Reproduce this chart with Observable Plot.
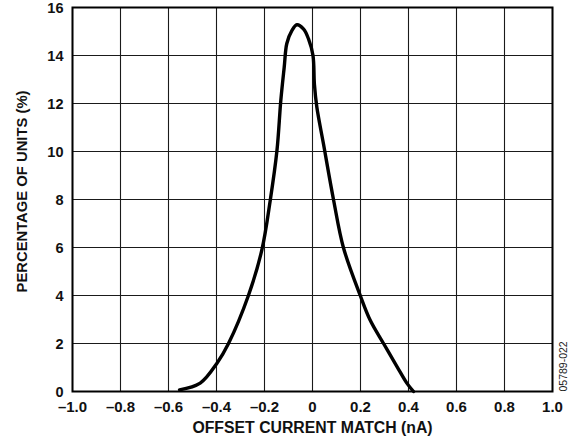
<!DOCTYPE html>
<html>
<head>
<meta charset="utf-8">
<script src="https://cdn.jsdelivr.net/npm/d3@7"></script>
<script src="https://cdn.jsdelivr.net/npm/@observablehq/plot@0.6"></script>
<style>
html, body { margin: 0; padding: 0; background: #fff; }
svg { font-family: "Liberation Sans", Arial, sans-serif; }
</style>
</head>
<body>
<div id="chart"></div>
<script>
const offsetNA = [-0.554, -0.468, -0.398, -0.35, -0.267, -0.211, -0.176, -0.148, -0.132, -0.118, -0.107, -0.086, -0.065, -0.037, -0.017, 0.002, 0.008, 0.018, 0.046, 0.088, 0.129, 0.199, 0.24, 0.296, 0.352, 0.393, 0.421];
const percentUnits = [0.07, 0.35, 1.18, 2.0, 4.0, 5.9, 7.97, 10.05, 12.13, 13.5, 14.5, 15.04, 15.28, 15.1, 14.7, 14.0, 12.8, 11.85, 10.3, 7.97, 5.99, 4.0, 2.98, 2.0, 1.04, 0.35, 0.0];
const xTicks = [-1.0, -0.8, -0.6, -0.4, -0.2, 0, 0.2, 0.4, 0.6, 0.8, 1.0];
const yTicks = [0, 2, 4, 6, 8, 10, 12, 14, 16];
const xLabel = "OFFSET CURRENT MATCH (nA)";
const yLabel = "PERCENTAGE OF UNITS (%)";
const figId = "05789-022";

const data = offsetNA.map((x, i) => ({x, y: percentUnits[i]}));
const fmtX = d => d === 0 ? "0" : (d < 0 ? "\u2013" : "") + Math.abs(d).toFixed(1);

const chart = Plot.plot({
  width: 583,
  height: 447,
  marginLeft: 72,
  marginRight: 31,
  marginTop: 7,
  marginBottom: 56,
  style: {fontFamily: "Liberation Sans, Arial, sans-serif", background: "#fff"},
  x: {domain: [-1, 1]},
  y: {domain: [0, 16]},
  marks: [
    Plot.gridX(xTicks, {stroke: "#1a1a1a", strokeOpacity: 1, strokeWidth: 1.1}),
    Plot.gridY(yTicks, {stroke: "#1a1a1a", strokeOpacity: 1, strokeWidth: 1.1}),
    Plot.frame({stroke: "#000", strokeWidth: 2}),
    Plot.line(data, {x: "x", y: "y", curve: "catmull-rom", stroke: "#000", strokeWidth: 3.4}),
    Plot.axisX(xTicks, {tickSize: 0, tickPadding: 10, tickFormat: fmtX, fontSize: 15, fontWeight: "bold", fill: "#111", label: null}),
    Plot.axisY(yTicks, {tickSize: 0, tickPadding: 9, dy: 1, tickFormat: d => String(d), fontSize: 14.5, fontWeight: "bold", fill: "#111", label: null}),
    Plot.text([xLabel], {frameAnchor: "bottom", dy: 41, fontSize: 15.8, fontWeight: "bold", fill: "#111"}),
    Plot.text([yLabel], {frameAnchor: "left", dx: -50, dy: -8, rotate: -90, textAnchor: "middle", fontSize: 14.8, fontWeight: "bold", fill: "#111"}),
    Plot.text([figId], {frameAnchor: "bottom-right", dx: 14, dy: 0, rotate: -90, textAnchor: "start", fontSize: 10.5, fill: "#222"})
  ]
});
document.getElementById("chart").appendChild(chart);
</script>
</body>
</html>
